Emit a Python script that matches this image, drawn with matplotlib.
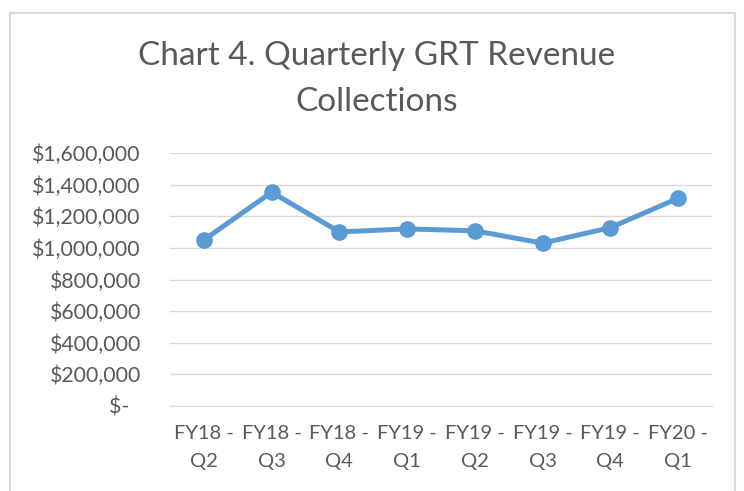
import numpy as np
import matplotlib.pyplot as plt
from matplotlib.lines import Line2D
from matplotlib.ticker import FuncFormatter

plt.rcParams['font.family'] = ['Lato', 'DejaVu Sans']

quarters = ["FY18 -\nQ2", "FY18 -\nQ3", "FY18 -\nQ4", "FY19 -\nQ1",
            "FY19 -\nQ2", "FY19 -\nQ3", "FY19 -\nQ4", "FY20 -\nQ1"]
revenue = [1050000, 1352000, 1101000, 1120000, 1108000, 1030000, 1128000, 1314000]
yticks = np.arange(0, 1600001, 200000)

txt = "#595959"
grid = "#D9D9D9"
blue = "#5B9BD5"

fig = plt.figure(figsize=(7.44, 4.91), dpi=100)
ax = fig.add_axes([170/744, 1 - 406/491, 542/744, 253/491])

x = np.arange(len(quarters))
ax.plot(x, revenue, color=blue, lw=3.6, marker="o", ms=11, solid_capstyle="round", zorder=3)

ax.set_xlim(-0.5, len(quarters) - 0.5)
ax.set_ylim(0, 1600000)
ax.set_yticks(yticks)
ax.yaxis.set_major_formatter(FuncFormatter(lambda v, p: "$-  " if v == 0 else f"${v:,.0f}"))
ax.set_xticks(x)
ax.set_xticklabels(quarters, linespacing=1.75)
ax.grid(axis="y", color=grid, lw=1)
ax.set_axisbelow(True)
for s in ax.spines.values():
    s.set_visible(False)
ax.spines["bottom"].set_visible(True)
ax.spines["bottom"].set_color(grid)
ax.tick_params(length=0, colors=txt)
ax.tick_params(axis="y", pad=21, labelsize=15.3)
ax.tick_params(axis="x", pad=14, labelsize=14.5)

# chart frame
fig.add_artist(Line2D([10/744, 10/744], [0, 1 - 13/491], color=grid, lw=1.5, transform=fig.transFigure))
fig.add_artist(Line2D([10/744, 735/744], [1 - 13/491, 1 - 13/491], color=grid, lw=1.5, transform=fig.transFigure))
fig.add_artist(Line2D([735/744, 735/744], [0, 1 - 13/491], color=grid, lw=1.5, transform=fig.transFigure))

fig.text(377/744, 1 - 79/491, "Chart 4. Quarterly GRT Revenue\nCollections", ha="center", va="center",
         fontsize=24, color=txt, linespacing=1.7)

fig.savefig("out.png", dpi=100)
